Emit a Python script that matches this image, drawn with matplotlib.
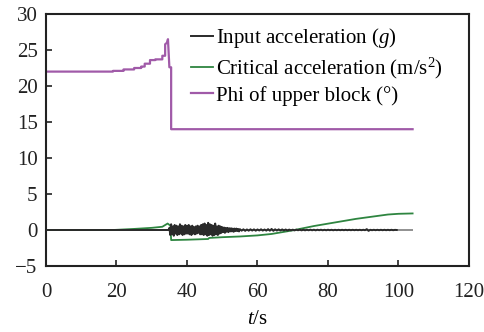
import numpy as np
import matplotlib
matplotlib.use("Agg")
import matplotlib.pyplot as plt

plt.rcParams['font.family'] = ['Liberation Serif', 'DejaVu Serif']
plt.rcParams['mathtext.fontset'] = 'custom'
plt.rcParams['mathtext.rm'] = 'Liberation Serif'
plt.rcParams['mathtext.it'] = 'Liberation Serif:italic'

# Phi of upper block (deg)
phi_t = [0, 19, 19, 22, 22, 25, 25, 27, 27, 28, 28, 29.5, 29.5, 31, 31, 33, 33, 33.8, 33.8, 34.3, 34.6, 35.0, 35.0, 35.5, 35.5, 104]
phi_v = [22, 22, 22.1, 22.1, 22.3, 22.3, 22.5, 22.5, 22.7, 22.7, 23.1, 23.1, 23.6, 23.6, 23.7, 23.7, 24.2, 24.2, 25.8, 26.0, 26.5, 22.6, 22.6, 22.6, 14.0, 14.0]

# Critical acceleration (m/s2)
crit_t = [0, 19, 25, 30, 33, 34.5, 35.3, 35.5, 40, 46, 46.3, 50, 55, 60, 64, 67, 70, 73, 76, 79, 82, 85, 88, 91, 94, 97, 100, 104]
crit_v = [0, 0.0, 0.15, 0.3, 0.45, 0.9, 0.6, -1.4, -1.35, -1.25, -1.1, -1.0, -0.9, -0.75, -0.55, -0.3, -0.05, 0.25, 0.55, 0.8, 1.05, 1.3, 1.55, 1.75, 1.95, 2.15, 2.25, 2.3]

# Input acceleration (g)
inp_t_pre = [0, 24, 34.75]
inp_v_pre = [0, 0, 0]
inp_dense = [0.3, -0.7, 0.8, -0.6, 0.5, -0.8, 0.7, -0.5,
             0.6, -0.7, 0.5, -0.6, 0.8, -0.5, 0.6, -0.7, 0.5, -0.6, 0.7, -0.5,
             0.6, -0.5, 0.7, -0.6, 0.5, -0.7, 0.6, -0.5, 0.4, -0.6, 0.5, -0.5, 0.6, -0.4, 0.5, -0.6,
             0.7, -0.6, 0.8, -0.7, 0.9, -0.6, 0.7, -0.8, 1.0, -0.7, 0.8, -0.6, 0.7, -0.8, 0.6, -0.7,
             0.9, -0.6, 0.5, -0.7, 0.6, -0.5, 0.5, -0.4,
             0.4, -0.3, 0.35, -0.4, 0.3, -0.25, 0.3, -0.3, 0.25, -0.2, 0.25, -0.2, 0.2, -0.25,
             0.2, -0.15, 0.2, -0.15, 0.15, -0.2]
inp_sparse = [0.12, -0.1, 0.1, -0.12, 0.08, -0.1, 0.1, -0.08, 0.09, -0.1,
              0.08, -0.07, 0.1, -0.08, 0.07, -0.09, 0.12, -0.1, 0.15, -0.12,
              0.1, -0.08, 0.09, -0.07, 0.08, -0.06, 0.07, -0.08, 0.06, -0.05,
              0.05, -0.06, 0.05, -0.04, 0.05, -0.05, 0.04, -0.05, 0.04, -0.04,
              0.05, -0.04, 0.04, -0.05, 0.04, -0.03, 0.04, -0.04, 0.03, -0.04,
              0.04, -0.03, 0.03, -0.04, 0.03, -0.03, 0.03, -0.03, 0.03, -0.03,
              0.03, -0.03, 0.03, -0.03, 0.03, -0.03, 0.03, -0.03, 0.03, -0.03,
              0.03, -0.03, 0.12, -0.12, 0.03, -0.03, 0.03, -0.03, 0.03, -0.03,
              0.03, -0.03, 0.03, -0.03, 0.03, -0.03, 0.03, -0.03, 0.02, 0.0]
inp_t = inp_t_pre + list(35 + 0.25 * np.arange(len(inp_dense))) + list(55 + 0.5 * np.arange(len(inp_sparse)))
inp_v = inp_v_pre + inp_dense + inp_sparse

fig = plt.figure(figsize=(4.85, 3.32), dpi=100)
ax = fig.add_axes([46/485, 1 - 266/332, (469-46)/485, (266-14)/332])

ax.hlines(0, 0, 104, color='#888888', lw=1.3, zorder=1)
l1, = ax.plot(inp_t, inp_v, color='#2a2a2a', lw=1.4, label='Input acceleration ($\\mathit{g}$)', zorder=3)
l2, = ax.plot(crit_t, crit_v, color='#2e8540', lw=1.3, label='Critical acceleration (m/s$^2$)', zorder=2)
l3, = ax.plot(phi_t, phi_v, color='#a05aa8', lw=1.6, label='Phi of upper block (°)', zorder=2)

ax.set_xlim(0, 120)
ax.set_ylim(-5, 30)
ax.set_xticks(range(0, 121, 20))
ax.set_yticks(range(-5, 31, 5))
ax.set_yticklabels(['\u22125'] + [str(v) for v in range(0, 31, 5)])
ax.tick_params(direction='in', length=4, width=1.2, labelsize=15, colors='#222222')
ax.tick_params(axis='x', top=False, pad=12)
ax.tick_params(axis='y', right=False, pad=6)
for s in ax.spines.values():
    s.set_linewidth(1.5)
    s.set_color('#222222')

ax.set_xlabel('$\\mathit{t}$/s', fontsize=15, labelpad=6)

leg = ax.legend(loc='upper left', bbox_to_anchor=(0.322, 0.985), frameon=False, fontsize=15,
                handlelength=1.1, handletextpad=0.1, labelspacing=0.25, borderaxespad=0)

fig.savefig('out.png', dpi=100)
